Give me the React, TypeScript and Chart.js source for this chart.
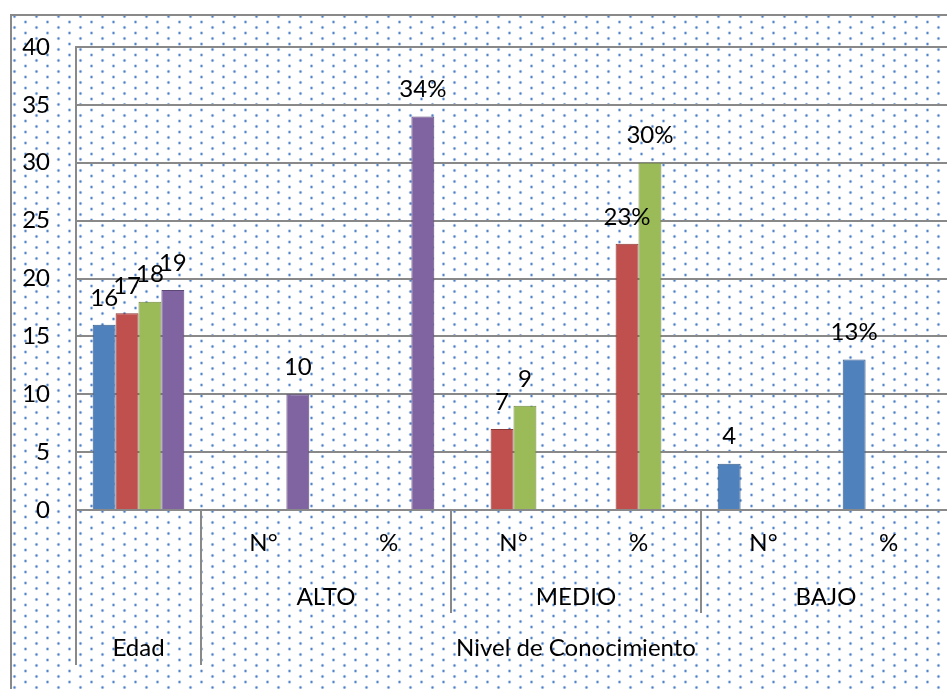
import React, { useEffect, useRef } from 'react';
import { Chart, registerables } from 'chart.js';

Chart.register(...registerables);

// ---- data ----
const categories = ['Edad', 'N°', '%', 'N°', '%', 'N°', '%'];
const percentCategory = [false, false, true, false, true, false, true];
const groupLabels = ['ALTO', 'MEDIO', 'BAJO'];
const topLabels = ['Edad', 'Nivel de Conocimiento'];
const serie1 = [16, null, null, null, null, 4, 13];
const serie2 = [17, null, null, 7, 23, null, null];
const serie3 = [18, null, null, 9, 30, null, null];
const serie4 = [19, 10, 34, null, null, null, null];
const yMin = 0;
const yMax = 40;
const yStep = 5;

const FAMILY = 'Lato, "Liberation Sans", sans-serif';
const FONT = '24px ' + FAMILY;
const GRID = '#898989';

function makePattern(ctx: CanvasRenderingContext2D) {
  const c = document.createElement('canvas');
  c.width = 22;
  c.height = 11;
  const p = c.getContext('2d')!;
  p.fillStyle = '#ffffff';
  p.fillRect(0, 0, 22, 11);
  const dot = (x: number, y: number) => {
    p.fillStyle = 'rgba(120,160,215,0.55)';
    p.beginPath();
    p.arc(x, y, 1.7, 0, Math.PI * 2);
    p.fill();
    p.fillStyle = 'rgba(70,120,195,0.95)';
    p.beginPath();
    p.arc(x, y, 0.9, 0, Math.PI * 2);
    p.fill();
  };
  dot(4.5, 2.5);
  dot(15.5, 8);
  return ctx.createPattern(c, 'repeat');
}

const backgroundPlugin = {
  id: 'bgPattern',
  beforeDraw(chart: any) {
    const ctx = chart.ctx as CanvasRenderingContext2D;
    const w = chart.width;
    const h = chart.height;
    ctx.save();
    const pat = makePattern(ctx);
    if (pat) ctx.fillStyle = pat;
    ctx.fillRect(0, 0, w, h);
    ctx.strokeStyle = GRID;
    ctx.lineWidth = 2;
    ctx.strokeRect(1, 1, w + 20, h + 20);
    ctx.restore();
  },
};

const labelPlugin = {
  id: 'valueLabels',
  afterDatasetsDraw(chart: any) {
    const ctx = chart.ctx as CanvasRenderingContext2D;
    ctx.save();
    ctx.font = FONT;
    ctx.fillStyle = '#000';
    ctx.textAlign = 'center';
    ctx.textBaseline = 'middle';
    chart.data.datasets.forEach((ds: any, di: number) => {
      const meta = chart.getDatasetMeta(di);
      meta.data.forEach((el: any, i: number) => {
        const v = ds.data[i];
        if (v === null || v === undefined) return;
        const txt = String(v) + (percentCategory[i] ? '%' : '');
        ctx.fillText(txt, el.x, el.y - 27);
      });
    });
    ctx.restore();
  },
};

const categoryAxisPlugin = {
  id: 'multiLevelAxis',
  afterDraw(chart: any) {
    const ctx = chart.ctx as CanvasRenderingContext2D;
    const area = chart.chartArea;
    const n = categories.length;
    const cw = (area.right - area.left) / n;
    const edge = (i: number) => area.left + i * cw;
    const b = area.bottom;
    ctx.save();
    ctx.strokeStyle = GRID;
    ctx.lineWidth = 2;
    const vline = (x: number, y0: number, y1: number) => {
      ctx.beginPath();
      ctx.moveTo(Math.round(x), y0);
      ctx.lineTo(Math.round(x), y1);
      ctx.stroke();
    };
    vline(edge(0), area.top - 1, b + 155);
    vline(edge(1), b, b + 155);
    vline(edge(n), b, b + 155);
    vline(edge(3), b, b + 103);
    vline(edge(5), b, b + 103);

    ctx.font = FONT;
    ctx.fillStyle = '#000';
    ctx.textAlign = 'center';
    ctx.textBaseline = 'middle';
    for (let i = 1; i < n; i++) {
      ctx.fillText(categories[i], edge(i) + cw / 2, b + 33);
    }
    groupLabels.forEach((g, gi) => {
      const s = edge(1 + gi * 2);
      const e = edge(3 + gi * 2);
      ctx.fillText(g, (s + e) / 2, b + 87);
    });
    ctx.fillText(topLabels[0], (edge(0) + edge(1)) / 2, b + 138);
    ctx.fillText(topLabels[1], (edge(1) + edge(n)) / 2, b + 138);
    ctx.restore();
  },
};

export default function App() {
  const ref = useRef<HTMLCanvasElement>(null);

  useEffect(() => {
    const canvas = ref.current!;
    const mk = (label: string, data: (number | null)[], bg: string, border: string) => ({
      label,
      data,
      backgroundColor: bg,
      borderColor: border,
      borderWidth: 1,
      categoryPercentage: 0.733,
      barPercentage: 1,
    });
    const chart = new Chart(canvas, {
      type: 'bar',
      data: {
        labels: categories,
        datasets: [
          mk('Serie1', serie1, '#4F81BD', '#385D8A'),
          mk('Serie2', serie2, '#C0504D', '#8C3836'),
          mk('Serie3', serie3, '#9BBB59', '#71893F'),
          mk('Serie4', serie4, '#8064A2', '#5C4776'),
        ],
      },
      options: {
        responsive: false,
        animation: false,
        layout: { padding: { left: 0, top: 33, right: 9, bottom: 194 } },
        plugins: {
          legend: { display: false },
          tooltip: { enabled: false },
        },
        scales: {
          x: { display: false },
          y: {
            min: yMin,
            max: yMax,
            ticks: {
              stepSize: yStep,
              padding: 26,
              color: '#000',
              font: { family: FAMILY, size: 24 },
            },
            grid: { color: GRID, lineWidth: 2, drawTicks: false },
            border: { display: false },
            afterFit(scale: any) {
              scale.width = 66;
              scale.paddingTop = 10;
              scale.paddingBottom = 10;
            },
          },
        },
      },
      plugins: [backgroundPlugin, labelPlugin, categoryAxisPlugin],
    } as any);
    return () => chart.destroy();
  }, []);

  return (
    <div
      style={{
        position: 'fixed',
        left: 0,
        top: 0,
        width: 947,
        height: 689,
        overflow: 'hidden',
        background: '#ffffff',
      }}
    >
      <canvas
        ref={ref}
        width={950}
        height={690}
        style={{ position: 'absolute', left: 10, top: 14, width: 950, height: 690 }}
      />
    </div>
  );
}
